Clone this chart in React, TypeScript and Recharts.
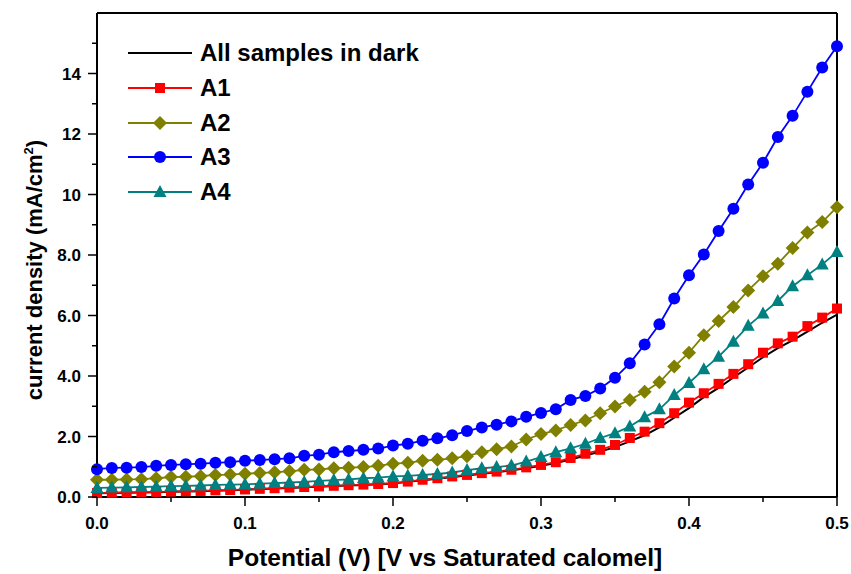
import React from "react";
import { LineChart, Line, XAxis, YAxis } from "recharts";

const potential = [
  0.0, 0.01, 0.02, 0.03, 0.04, 0.05, 0.06, 0.07, 0.08, 0.09,
  0.1, 0.11, 0.12, 0.13, 0.14, 0.15, 0.16, 0.17, 0.18, 0.19,
  0.2, 0.21, 0.22, 0.23, 0.24, 0.25, 0.26, 0.27, 0.28, 0.29,
  0.3, 0.31, 0.32, 0.33, 0.34, 0.35, 0.36, 0.37, 0.38, 0.39,
  0.4, 0.41, 0.42, 0.43, 0.44, 0.45, 0.46, 0.47, 0.48, 0.49, 0.5,
];

const dark = [
  0.12, 0.13, 0.14, 0.15, 0.16, 0.17, 0.18, 0.19, 0.21, 0.22,
  0.24, 0.26, 0.28, 0.3, 0.32, 0.34, 0.36, 0.38, 0.4, 0.42,
  0.45, 0.5, 0.55, 0.6, 0.66, 0.71, 0.77, 0.82, 0.88, 0.95,
  1.03, 1.12, 1.24, 1.37, 1.5, 1.65, 1.84, 2.04, 2.3, 2.62,
  2.94, 3.3, 3.61, 3.95, 4.28, 4.62, 4.92, 5.18, 5.47, 5.76, 6.03,
];

const a1 = [
  0.13, 0.14, 0.15, 0.16, 0.17, 0.18, 0.19, 0.2, 0.22, 0.23,
  0.25, 0.27, 0.29, 0.31, 0.33, 0.35, 0.37, 0.39, 0.41, 0.43,
  0.46, 0.51, 0.57, 0.62, 0.68, 0.73, 0.79, 0.84, 0.9, 0.98,
  1.06, 1.15, 1.29, 1.43, 1.56, 1.72, 1.95, 2.16, 2.44, 2.77,
  3.12, 3.43, 3.74, 4.07, 4.39, 4.77, 5.08, 5.3, 5.65, 5.93, 6.23,
];

const a2 = [
  0.57, 0.57, 0.58, 0.59, 0.62, 0.66, 0.67, 0.69, 0.73, 0.74,
  0.77, 0.79, 0.82, 0.85, 0.9, 0.91, 0.95, 0.97, 0.99, 1.03,
  1.1, 1.13, 1.2, 1.23, 1.28, 1.35, 1.48, 1.58, 1.67, 1.9,
  2.08, 2.2, 2.38, 2.53, 2.77, 2.99, 3.21, 3.48, 3.79, 4.31,
  4.77, 5.35, 5.82, 6.28, 6.83, 7.3, 7.71, 8.23, 8.74, 9.09, 9.58,
];

const a3 = [
  0.92, 0.96, 0.97, 0.99, 1.03, 1.06, 1.08, 1.1, 1.13, 1.15,
  1.2, 1.22, 1.25, 1.28, 1.36, 1.4, 1.48, 1.52, 1.56, 1.6,
  1.7, 1.76, 1.86, 1.94, 2.04, 2.18, 2.3, 2.39, 2.5, 2.65,
  2.78, 2.9, 3.21, 3.34, 3.59, 3.94, 4.42, 5.04, 5.71, 6.56,
  7.33, 8.02, 8.79, 9.53, 10.33, 11.05, 11.9, 12.6, 13.4, 14.2, 14.9,
];

const a4 = [
  0.3, 0.31, 0.32, 0.33, 0.34, 0.36, 0.37, 0.38, 0.4, 0.41,
  0.42, 0.44, 0.46, 0.48, 0.5, 0.53, 0.56, 0.58, 0.62, 0.64,
  0.68, 0.7, 0.73, 0.76, 0.81, 0.89, 0.95, 0.99, 1.04, 1.17,
  1.32, 1.48, 1.61, 1.76, 1.95, 2.11, 2.33, 2.64, 2.9, 3.37,
  3.77, 4.22, 4.64, 5.13, 5.66, 6.07, 6.48, 6.97, 7.33, 7.69, 8.1,
];

const xTicks = [0, 0.05, 0.1, 0.15, 0.2, 0.25, 0.3, 0.35, 0.4, 0.45, 0.5];
const yTicks = [0, 1, 2, 3, 4, 5, 6, 7, 8, 9, 10, 11, 12, 13, 14, 15];

const data = potential.map((v, i) => ({
  v,
  dark: dark[i],
  a1: a1[i],
  a2: a2[i],
  a3: a3[i],
  a4: a4[i],
}));

const FONT = "'Liberation Sans', Arial, sans-serif";

const series = [
  { key: "dark", name: "All samples in dark", color: "#000000", shape: "none" },
  { key: "a1", name: "A1", color: "#ff0000", shape: "square" },
  { key: "a2", name: "A2", color: "#808000", shape: "diamond" },
  { key: "a3", name: "A3", color: "#0000ff", shape: "circle" },
  { key: "a4", name: "A4", color: "#008080", shape: "triangle" },
];

const Marker = ({ cx, cy, shape, color }: any) => {
  if (cx == null || cy == null) return <g />;
  if (shape === "square")
    return <rect x={cx - 5} y={cy - 5} width={10} height={10} fill={color} />;
  if (shape === "diamond")
    return (
      <polygon
        points={`${cx},${cy - 7} ${cx + 7},${cy} ${cx},${cy + 7} ${cx - 7},${cy}`}
        fill={color}
      />
    );
  if (shape === "circle") return <circle cx={cx} cy={cy} r={6} fill={color} />;
  if (shape === "triangle")
    return (
      <polygon
        points={`${cx},${cy - 7} ${cx + 6.5},${cy + 5} ${cx - 6.5},${cy + 5}`}
        fill={color}
      />
    );
  return <g />;
};

const XTick = (props: any) => {
  const { x, y, payload } = props;
  const major = Math.round(payload.value * 100) % 10 === 0;
  return (
    <g>
      <line x1={x} x2={x} y1={y} y2={y + (major ? 9 : 5)} stroke="#000" strokeWidth={1.5} />
      {major && (
        <text x={x} y={y + 32} textAnchor="middle" fontFamily={FONT} fontWeight="bold" fontSize={17} fill="#000">
          {payload.value.toFixed(1)}
        </text>
      )}
    </g>
  );
};

const YTick = (props: any) => {
  const { x, y, payload } = props;
  const major = payload.value % 2 === 0;
  const label = payload.value < 10 ? payload.value.toFixed(1) : String(payload.value);
  return (
    <g>
      <line x1={x} x2={x - (major ? 9 : 5)} y1={y} y2={y} stroke="#000" strokeWidth={1.5} />
      {major && payload.value <= 14 && (
        <text x={x - 16} y={y + 6} textAnchor="end" fontFamily={FONT} fontWeight="bold" fontSize={17} fill="#000">
          {label}
        </text>
      )}
    </g>
  );
};

const YTitle = () => (
  <text
    transform="translate(42,270) rotate(-90)"
    textAnchor="middle"
    fontFamily={FONT}
    fontWeight="bold"
    fontSize={22}
    fill="#000"
  >
    current density (mA/cm
    <tspan dy={-9} fontSize={13}>2</tspan>
    <tspan dy={9}>)</tspan>
  </text>
);

const XTitle = () => (
  <text x={445} y={566} textAnchor="middle" fontFamily={FONT} fontWeight="bold" fontSize={24.5} fill="#000">
    Potential (V) [V vs Saturated calomel]
  </text>
);

const LegendBox = () => (
  <div
    style={{
      position: "absolute",
      left: 128,
      top: 36,
      fontFamily: FONT,
      fontWeight: "bold",
      fontSize: 24,
      color: "#000",
    }}
  >
    {series.map((s) => (
      <div key={s.key} style={{ display: "flex", alignItems: "center", height: 34.7 }}>
        <svg width={64} height={20} style={{ display: "block" }}>
          <line x1={0} x2={64} y1={10} y2={10} stroke={s.color} strokeWidth={2} />
          <Marker cx={32} cy={10} shape={s.shape} color={s.color} />
        </svg>
        <span style={{ marginLeft: 8, lineHeight: "34px" }}>{s.name}</span>
      </div>
    ))}
  </div>
);

export default function App() {
  return (
    <div style={{ position: "absolute", left: 0, top: 0, width: 851, height: 574, background: "#fff" }}>
      <LineChart
        width={851}
        height={574}
        data={data}
        margin={{ top: 12, right: 13, bottom: 0, left: 0 }}
      >
        <XAxis
          dataKey="v"
          type="number"
          domain={[0, 0.5]}
          ticks={xTicks}
          interval={0}
          height={77}
          tickSize={0}
          tickMargin={0}
          tickLine={false}
          tick={<XTick />}
          axisLine={{ stroke: "#000", strokeWidth: 2 }}
          label={<XTitle />}
        />
        <XAxis
          xAxisId="top"
          orientation="top"
          dataKey="v"
          type="number"
          domain={[0, 0.5]}
          height={1}
          tick={false}
          tickLine={false}
          axisLine={{ stroke: "#000", strokeWidth: 2 }}
        />
        <YAxis
          type="number"
          domain={[0, 16]}
          ticks={yTicks}
          interval={0}
          width={97}
          tickSize={0}
          tickMargin={0}
          tickLine={false}
          tick={<YTick />}
          axisLine={{ stroke: "#000", strokeWidth: 2 }}
          label={<YTitle />}
        />
        <YAxis
          yAxisId="right"
          orientation="right"
          type="number"
          domain={[0, 16]}
          width={1}
          tick={false}
          tickLine={false}
          axisLine={{ stroke: "#000", strokeWidth: 2 }}
        />
        {series.map((s) => (
          <Line
            key={s.key}
            dataKey={s.key}
            name={s.name}
            stroke={s.color}
            strokeWidth={s.key === "dark" ? 2 : 1.8}
            isAnimationActive={false}
            dot={
              s.shape === "none"
                ? false
                : (p: any) => (
                    <Marker key={`${s.key}-${p.index}`} cx={p.cx} cy={p.cy} shape={s.shape} color={s.color} />
                  )
            }
            activeDot={false}
          />
        ))}
      </LineChart>
      <LegendBox />
    </div>
  );
}
